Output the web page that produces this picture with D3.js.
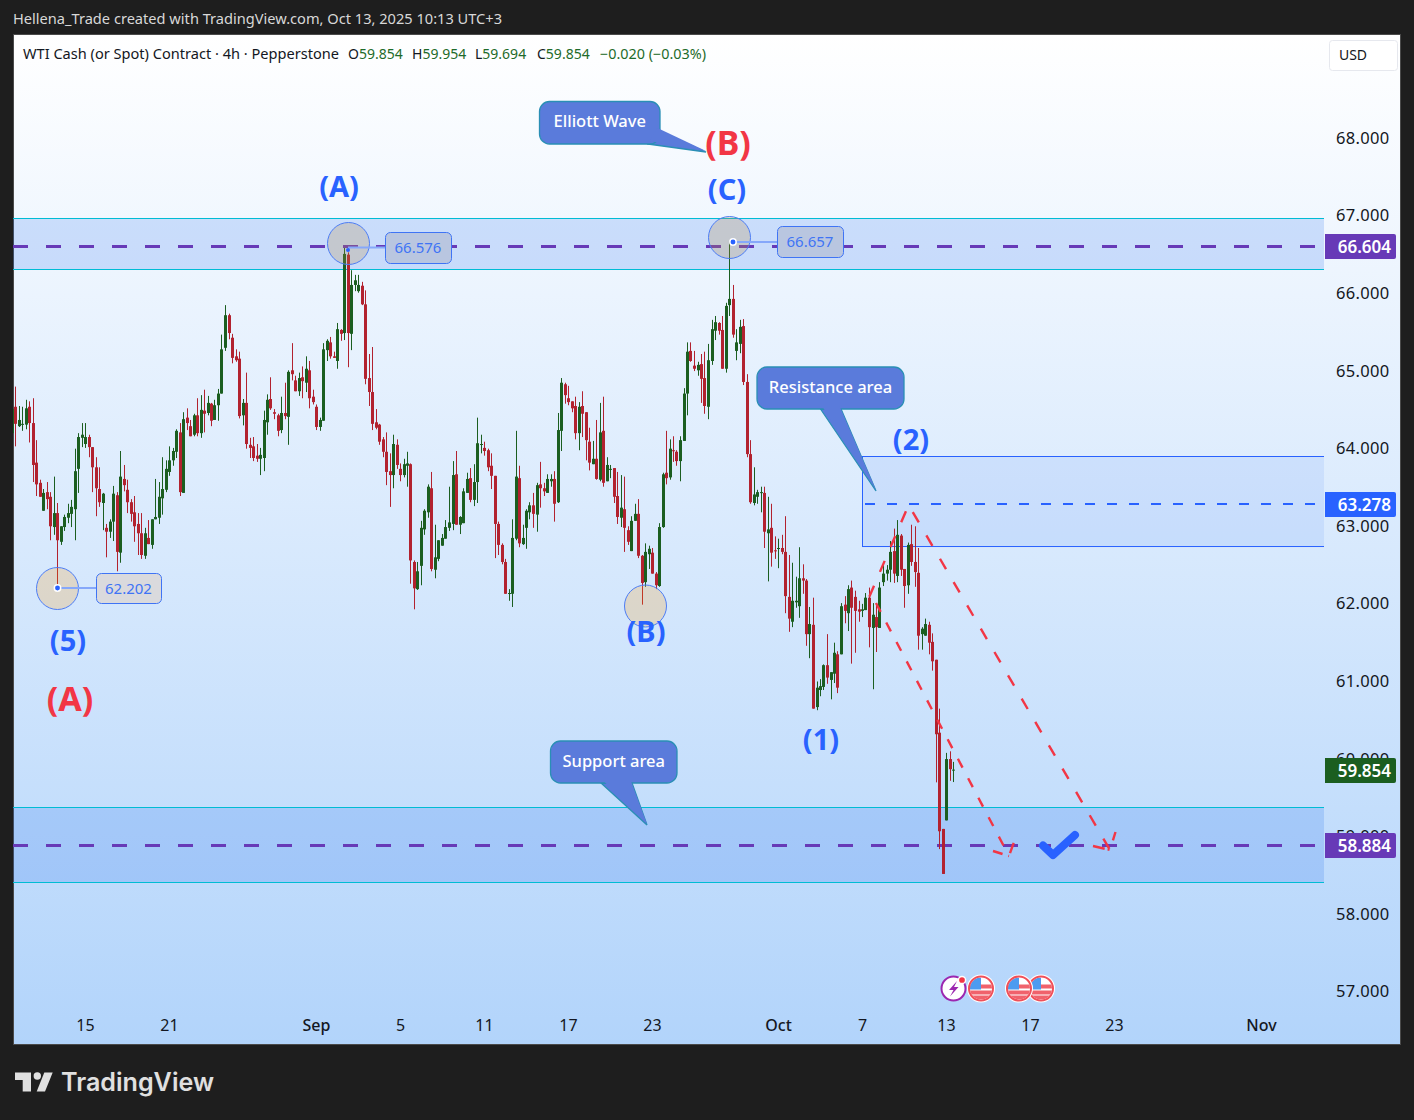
<!DOCTYPE html>
<html><head><meta charset="utf-8">
<style>html,body{margin:0;padding:0;background:#1e1e1e;overflow:hidden}svg{display:block}</style>
<script src="https://cdn.jsdelivr.net/npm/d3@7/dist/d3.min.js"></script>
</head><body><svg id="c" width="1414" height="1120"></svg>
<script>
const opens=[64.19,
64.53,64.28,64.30,64.30,64.53,64.32,63.81,63.55,63.19,63.43,
63.37,62.98,63.16,62.79,62.98,63.10,63.15,63.21,63.73,64.13,
64.05,64.14,64.01,63.75,63.47,63.29,62.97,62.92,63.05,63.39,
62.65,63.60,63.46,63.30,63.17,63.02,62.90,62.61,62.84,62.75,
63.08,63.10,63.35,63.46,63.69,63.84,63.95,64.20,63.42,64.39,
64.28,64.17,64.42,64.19,64.48,64.45,64.57,64.36,64.55,64.70,
65.29,65.71,65.42,65.18,65.15,64.42,64.58,64.04,64.02,63.90,
63.86,63.87,64.33,64.63,64.46,64.42,64.23,64.45,64.40,65.00,
64.87,64.73,64.91,64.84,65.00,64.66,64.53,64.27,64.35,65.26,
65.36,65.18,65.12,65.52,65.48,66.49,65.47,66.10,66.02,66.09,
65.85,64.90,64.72,64.33,64.30,64.11,63.95,63.70,63.65,64.04,
63.73,63.65,63.77,63.79,62.53,62.18,62.48,62.95,63.17,63.48,
62.43,62.57,62.74,62.83,62.97,63.02,63.66,63.01,63.03,63.42,
63.61,63.33,63.56,64.04,64.00,63.97,63.77,63.64,63.02,62.75,
62.53,62.12,62.12,62.83,63.61,62.76,62.97,63.17,63.26,63.14,
63.53,63.48,63.42,63.57,63.60,63.30,64.22,64.82,64.64,64.60,
64.54,64.19,64.54,64.46,64.08,63.79,63.86,63.59,64.22,63.57,
63.72,63.74,63.38,63.10,63.21,62.94,62.67,63.06,63.15,62.61,
62.27,62.63,62.65,62.38,62.22,62.98,63.68,63.62,63.97,63.95,
63.83,64.09,64.70,65.25,65.06,65.00,65.08,64.90,64.53,65.12,
65.51,65.61,65.52,65.02,65.84,65.92,65.25,65.34,65.57,64.85,
63.92,63.29,63.37,63.42,63.42,62.90,62.97,62.68,62.70,62.71,
62.66,62.08,61.76,62.01,61.96,62.32,62.29,61.60,61.72,60.66,
60.88,60.92,61.20,61.01,61.09,61.34,61.34,61.98,61.87,62.20,
62.08,61.92,61.90,61.91,62.07,61.68,61.82,61.68,62.27,62.38,
62.43,62.67,62.35,62.87,62.44,62.23,62.76,62.53,62.39,61.60,
61.58,61.72,61.50,61.27,60.33,59.09,59.20,59.99,59.854];
const highs=[64.51,
64.79,64.54,64.53,64.62,64.60,64.64,64.10,63.59,63.47,63.56,
63.43,63.63,63.29,62.99,63.14,63.28,63.33,63.99,64.19,64.32,
64.32,64.17,64.01,63.88,63.75,63.42,63.02,63.08,63.51,63.43,
63.96,63.78,63.59,63.34,63.38,63.16,63.16,62.97,63.07,63.08,
63.60,63.56,63.88,63.84,64.02,64.00,64.24,64.32,64.46,64.51,
64.36,64.44,64.64,64.68,64.75,64.67,64.58,64.62,64.76,65.46,
65.84,65.73,65.47,65.27,65.24,64.63,64.97,64.13,64.14,64.05,
64.00,64.48,64.69,64.91,64.50,64.44,64.66,64.84,65.00,65.35,
64.93,64.97,65.05,65.18,65.12,64.75,64.56,64.39,65.35,65.40,
65.43,65.24,65.61,65.53,66.576,66.52,66.29,66.23,66.23,66.14,
66.03,65.21,65.30,64.50,64.31,64.14,64.20,63.93,64.17,64.11,
63.80,63.86,63.95,63.80,62.55,62.53,63.06,63.21,63.53,63.69,
63.01,62.81,62.89,63.07,63.50,63.83,63.96,63.12,63.48,63.68,
63.74,63.79,64.39,64.17,64.08,63.99,63.93,63.64,63.05,62.77,
62.57,62.18,63.08,64.22,63.77,63.01,63.21,63.30,63.42,63.55,
63.82,63.55,63.66,63.66,63.70,64.45,64.90,64.84,64.80,64.60,
64.66,64.59,64.73,64.46,64.26,64.09,64.36,64.58,64.66,63.88,
63.78,63.74,63.69,63.65,63.63,62.99,63.12,63.28,63.34,62.62,
62.77,62.74,62.71,62.40,63.03,63.68,64.22,64.11,64.15,63.97,
64.15,64.77,65.36,65.36,65.25,65.11,65.21,65.24,65.34,65.65,
65.70,65.62,65.70,65.87,66.657,66.10,65.53,65.65,65.66,64.95,
64.10,63.75,63.46,63.50,63.50,63.37,63.28,62.86,62.83,62.88,
63.12,62.62,62.52,62.34,62.72,62.50,62.31,61.95,62.07,60.99,
61.02,61.21,61.60,61.11,61.49,61.38,62.00,62.09,62.23,62.29,
62.16,62.03,61.99,62.13,62.20,62.00,62.00,62.27,62.49,62.49,
62.80,62.96,63.07,62.89,62.44,62.78,63.01,62.99,62.71,61.69,
61.80,61.76,61.61,61.27,60.64,59.09,60.07,60.09,59.954];
const lows=[64.18,
64.02,64.27,64.22,64.24,64.07,63.56,63.38,63.37,63.19,63.21,
62.81,62.88,62.202,62.75,62.93,63.03,62.98,62.81,63.42,64.01,
64.00,63.88,63.43,63.12,63.24,62.94,62.59,62.84,62.80,62.41,
62.52,63.44,63.16,63.05,62.79,62.62,62.57,62.57,62.76,62.70,
63.08,63.02,63.14,63.43,63.64,63.77,63.87,63.38,63.42,64.23,
64.15,64.15,64.15,64.13,64.20,64.42,64.28,64.36,64.35,64.70,
65.25,65.40,65.09,65.11,64.38,64.29,63.99,63.87,63.83,63.82,
63.65,63.70,64.17,64.49,64.37,64.15,64.19,64.37,64.04,64.87,
64.73,64.67,64.64,64.72,64.51,64.56,64.23,64.22,64.35,65.12,
65.15,65.16,65.02,65.38,65.39,65.04,65.26,66.02,66.00,65.84,
64.82,64.54,64.23,64.24,64.04,63.88,63.52,63.24,63.48,63.73,
63.57,63.62,63.50,62.25,61.92,62.17,62.23,62.88,63.10,62.41,
62.32,62.54,62.74,62.83,62.93,62.94,63.01,62.89,63.03,63.42,
63.30,63.25,63.29,63.93,63.90,63.70,63.47,62.58,62.62,62.50,
62.12,62.03,61.95,62.81,62.72,62.75,62.70,63.08,62.97,62.92,
63.23,63.38,63.42,63.50,63.05,63.29,63.96,64.57,64.55,64.46,
64.11,63.97,64.14,63.84,63.71,63.79,63.59,63.57,63.50,63.57,
63.61,63.29,63.02,62.98,62.66,62.75,62.67,63.06,62.58,61.98,
62.21,62.44,62.38,62.18,62.21,62.97,63.53,63.59,63.82,63.77,
63.57,64.09,64.42,65.11,64.99,64.93,64.58,64.44,64.37,65.07,
65.39,65.46,65.02,64.97,65.70,65.42,65.13,65.22,64.81,63.88,
63.28,63.26,63.28,63.17,62.71,62.28,62.47,62.57,62.45,62.63,
61.87,61.63,61.69,61.94,61.81,62.12,61.45,61.29,60.64,60.62,
60.80,60.88,60.96,60.76,60.97,60.84,61.34,61.74,61.64,61.22,
61.36,61.76,61.82,61.91,61.43,60.89,61.37,61.68,62.22,62.29,
62.27,62.26,62.27,62.35,61.94,62.12,62.48,62.21,61.40,61.40,
61.58,61.34,61.13,59.69,58.83,58.51,59.20,59.71,59.694];
const closes=[64.50,
64.31,64.36,64.31,64.51,64.32,63.78,63.53,63.37,63.42,63.34,
62.99,63.16,62.81,62.99,63.11,63.16,63.24,63.70,64.14,64.17,
64.14,64.01,63.75,63.48,63.30,63.41,62.92,63.05,63.41,62.66,
63.63,63.52,63.30,63.15,62.99,62.90,62.62,62.90,62.76,63.08,
63.11,63.37,63.47,63.73,63.84,63.96,64.22,63.43,64.37,64.32,
64.15,64.42,64.19,64.49,64.44,64.58,64.35,64.55,64.70,65.27,
65.71,65.48,65.16,65.13,64.41,64.58,64.05,64.00,63.87,63.86,
63.91,64.36,64.62,64.51,64.44,64.22,64.45,64.41,64.98,64.95,
64.73,64.90,64.86,65.02,64.64,64.59,64.27,64.36,65.27,65.38,
65.18,65.16,65.53,65.47,66.50,65.48,66.10,66.16,66.10,65.85,
64.89,64.72,64.31,64.26,64.08,63.95,63.69,63.65,64.05,63.78,
63.65,63.79,63.80,62.55,62.19,62.41,62.97,63.19,63.50,62.44,
62.59,62.81,62.84,62.98,63.04,63.65,63.01,63.11,63.44,63.60,
63.33,63.56,64.06,64.05,63.96,63.75,63.64,63.02,62.75,62.53,
62.12,62.13,62.84,63.63,62.77,62.84,63.19,63.26,63.15,63.52,
63.48,63.44,63.60,63.60,63.28,64.23,64.84,64.68,64.59,64.51,
64.19,64.53,64.44,64.10,63.81,63.86,63.60,64.20,63.55,63.78,
63.73,63.37,63.11,63.23,62.97,62.79,63.06,63.15,62.61,62.26,
62.66,62.70,62.38,62.23,62.98,63.66,63.61,63.99,63.96,63.83,
64.10,64.70,65.24,65.12,65.02,65.07,64.89,64.54,65.13,65.53,
65.62,65.51,65.02,65.83,65.92,65.46,65.36,65.56,64.85,63.92,
63.30,63.40,63.43,63.43,62.92,62.95,62.65,62.67,62.71,62.66,
62.09,61.80,62.03,62.03,62.32,62.29,61.60,61.73,60.64,60.91,
60.93,61.20,61.04,61.11,61.36,60.91,61.96,61.90,62.18,61.94,
61.90,61.89,61.92,62.07,61.69,61.85,61.69,62.20,62.38,62.43,
62.66,62.38,62.88,62.43,62.22,62.75,62.53,62.40,61.58,61.67,
61.73,61.49,61.25,60.31,59.06,58.51,59.99,59.86,59.854];

const priceTicks=[68,67,66,65,64,63,62,61,60,59,58,57];
const dateBars=[21,45,87,111,135,159,183,219,243,267,291,315,357];
const dateLabels=["15","21","Sep","5","11","17","23","Oct","7","13","17","23","Nov"];
const boldDates=["Sep","Oct","Nov"];
const zonePrices=[[66.963,66.305],[59.372,58.406]];
const levelPrices=[66.604,58.884];
const resistancePrices=[63.896,62.736,63.278];
const lastClose=59.854;
const UP="#1b5e20",DOWN="#b2222f",BLUE="#2962ff",PURPLE="#673ab7",RED="#f23645";
const UI="'Noto Sans',sans-serif";

const svg=d3.select("#c");
const defs=svg.append("defs");
const grad=defs.append("linearGradient").attr("id","bg").attr("x1",0).attr("y1",0).attr("x2",0).attr("y2",1);
grad.append("stop").attr("offset",0).attr("stop-color","#ffffff");
grad.append("stop").attr("offset",1).attr("stop-color","#b2d4fb");
defs.append("clipPath").attr("id","plot").append("rect").attr("x",13).attr("y",35).attr("width",1311).attr("height",1009);

const x=d3.scaleLinear().domain([0,400]).range([12,1412]);
const y=d3.scaleLinear().domain([57,68]).range([991.1,137.5]);

svg.append("rect").attr("x",13.5).attr("y",34.5).attr("width",1387).attr("height",1010).attr("fill","url(#bg)").attr("stroke","#4a4a4a");

svg.append("text").attr("x",13).attr("y",24).attr("fill","#d8d8d8").attr("font-family",UI).attr("font-size",13.5)
  .attr("textLength",489).attr("lengthAdjust","spacingAndGlyphs").text("Hellena_Trade created with TradingView.com, Oct 13, 2025 10:13 UTC+3");

// axes
const yAxis=d3.axisRight(y).tickValues(priceTicks).tickFormat(d3.format(".3f")).tickSize(0).tickPadding(0);
const ya=svg.append("g").attr("transform","translate(1336,0.5)").call(yAxis);
ya.select(".domain").remove();
ya.selectAll("text").attr("font-family",UI).attr("font-size",16.5).attr("fill","#131722").attr("letter-spacing",0.3);
const xAxis=d3.axisBottom(x).tickValues(dateBars).tickFormat((d,i)=>dateLabels[i]).tickSize(0).tickPadding(0);
const xa=svg.append("g").attr("transform","translate(-0.5,1020)").call(xAxis);
xa.select(".domain").remove();
xa.selectAll("text").attr("font-family",UI).attr("font-size",16).attr("fill","#131722")
  .attr("font-weight",(d,i)=>boldDates.includes(dateLabels[i])?500:400);

// price-note boxes sit under the zones
function note(bx,by,w,h,label,fill){
  svg.append("rect").attr("x",bx+.5).attr("y",by+.5).attr("width",w).attr("height",h).attr("rx",5).attr("fill",fill).attr("stroke","#3f74f5").attr("stroke-width",1);
  svg.append("text").attr("x",bx+w/2).attr("y",by+h/2+5.5).attr("text-anchor","middle").attr("font-family",UI).attr("font-size",15).attr("fill","#3f74f5").text(label);
}
const plot=svg.append("g").attr("clip-path","url(#plot)");
plot.selectAll("rect.zone").data(zonePrices).join("rect").attr("class","zone").attr("x",13).attr("width",1311)
  .attr("y",d=>y(d[0])).attr("height",d=>y(d[1])-y(d[0])).attr("fill","#1a69f0").attr("fill-opacity",.18);
plot.selectAll("line.edge").data(zonePrices.flat()).join("line").attr("class","edge").attr("x1",13).attr("x2",1324)
  .attr("y1",d=>Math.round(y(d))+.5).attr("y2",d=>Math.round(y(d))+.5).attr("stroke","#00bcd4").attr("stroke-width",1);

note(385,232,66,31,"66.576","#b9c6e0");
note(777,226,66,31,"66.657","#b9c6e0");
note(96,573,65,30,"62.202","#dadadd");

plot.selectAll("line.level").data(levelPrices).join("line").attr("class","level").attr("x1",13).attr("x2",1324)
  .attr("y1",d=>Math.round(y(d))+.5).attr("y2",d=>Math.round(y(d))+.5).attr("stroke",PURPLE).attr("stroke-width",3).attr("stroke-dasharray","15 18");

// resistance box
plot.append("rect").attr("x",862.5).attr("y",Math.round(y(resistancePrices[0]))+.5).attr("width",470)
  .attr("height",y(resistancePrices[1])-y(resistancePrices[0])).attr("fill","#1a69f0").attr("fill-opacity",.09).attr("stroke",BLUE).attr("stroke-width",1);
plot.append("line").attr("x1",865).attr("x2",1324).attr("y1",y(resistancePrices[2])).attr("y2",y(resistancePrices[2]))
  .attr("stroke",BLUE).attr("stroke-width",2).attr("stroke-dasharray","10 12");

// candles
const idx=d3.range(opens.length);
const px=i=>Math.floor(x(i));
plot.selectAll("rect.wick").data(idx).join("rect").attr("class","wick")
  .attr("x",px).attr("width",1)
  .attr("y",i=>y(highs[i])).attr("height",i=>y(lows[i])-y(highs[i]))
  .attr("fill",i=>closes[i]>=opens[i]?UP:DOWN);
plot.selectAll("rect.body").data(idx).join("rect").attr("class","body")
  .attr("x",i=>px(i)-1).attr("width",3)
  .attr("y",i=>y(Math.max(opens[i],closes[i])))
  .attr("height",i=>Math.max(1,Math.abs(y(opens[i])-y(closes[i]))))
  .attr("fill",i=>closes[i]>=opens[i]?UP:DOWN);

// circles
function circle(cx,cy,fill,op){
  svg.append("circle").attr("cx",cx).attr("cy",cy).attr("r",21).attr("fill",fill).attr("fill-opacity",op).attr("stroke","#4d7df5").attr("stroke-width",1);
}
function anchor(dot,dy,lineTo,ly,r,halo){
  svg.append("line").attr("x1",dot).attr("x2",lineTo).attr("y1",ly).attr("y2",ly).attr("stroke","#86a8fa").attr("stroke-width",2);
  const c=svg.append("circle").attr("cx",dot).attr("cy",dy).attr("r",r).attr("fill",BLUE);
  if(halo)c.attr("stroke","#fff").attr("stroke-width",1.5);
}
circle(57.5,588.5,"#ff9800",.2); anchor(57.5,588,96,588,3.2,true);
circle(348.5,243.5,"#b98c46",.25); anchor(348,250,385,247.5,2,false);
circle(729.5,237.5,"#b98c46",.25); anchor(733,242,777,242,3.2,true);
circle(645.5,606,"#ff9800",.2);

// dashed red paths
const dashLine=d3.line();
function dash(pts,pattern){svg.append("path").attr("d",dashLine(pts)).attr("fill","none").attr("stroke",RED).attr("stroke-width",2.4).attr("stroke-dasharray",pattern);}
dash([[869.3,596.7],[908.6,505],[1110,850]],"12 15");
dash([[1093,846],[1110,850]],"12 3 2 99");
dash([[1110,850],[1115.5,832]],"0 10 9 50");
dash([[876,603],[1009,856]],"10 12");
dash([[993,851],[1009,856]],"10 6 2 99");
dash([[1009,856],[1014,842]],"0 3 11 50");

// check mark
svg.append("path").attr("d",dashLine([[1043,845.5],[1053,855],[1075,835]])).attr("fill","none").attr("stroke",BLUE).attr("stroke-width",8).attr("stroke-linejoin","round").attr("stroke-linecap","round");

// callouts
function callout(bx0,by0,bx1,by1,tail,label,fs,dy){
  const F="#5a7bdb",S="#2a8fb5";
  svg.append("path").attr("d",dashLine(tail)+"Z").attr("fill",F).attr("stroke",S).attr("stroke-width",1.3);
  svg.append("rect").attr("x",bx0).attr("y",by0).attr("width",bx1-bx0).attr("height",by1-by0).attr("rx",10).attr("fill",F).attr("stroke",S).attr("stroke-width",1.3);
  svg.append("path").attr("d",dashLine([[tail[0][0]+1.5,tail[0][1]-3],[tail[1][0],tail[1][1]-1],[tail[2][0]-1.5,tail[2][1]-3]])+"Z").attr("fill",F);
  svg.append("text").attr("x",(bx0+bx1)/2).attr("y",(by0+by1)/2+dy).attr("text-anchor","middle").attr("fill","#fff")
    .attr("font-family",UI).attr("font-weight",500).attr("font-size",fs).text(label);
}
callout(539.5,101.5,660,144,[[648,144],[706,152],[659,131]],"Elliott Wave",16.5,4);
callout(757,367,904,409,[[820.5,409],[876,491],[841,409]],"Resistance area",16.5,4.5);
callout(550.5,741,677,783,[[601,783],[647,825],[632,783]],"Support area",16.5,5);

// wave labels
const waves=[["(A)",339,187,BLUE,29],["(C)",727,190,BLUE,29],["(B)",728,142.5,RED,34],["(5)",68,641,BLUE,29],["(A)",70,698.5,RED,34],["(B)",646,632,BLUE,29],["(1)",821,739.5,BLUE,29],["(2)",911,440,BLUE,29]];
svg.selectAll("text.wave").data(waves).join("text").attr("class","wave").attr("x",d=>d[1]).attr("y",d=>d[2]+d[4]*.36)
  .attr("text-anchor","middle").attr("fill",d=>d[3]).attr("font-size",d=>d[4]).attr("font-weight",700).attr("font-family",UI).text(d=>d[0]);

// price tags
const tags=[[66.604,PURPLE],[63.278,BLUE],[lastClose,UP],[58.884,PURPLE]];
tags.forEach(([p,c])=>{
  const cy=Math.round(y(p))+.5;
  svg.append("path").attr("d",`M1325 ${cy-12.5}H1394a2 2 0 0 1 2 2V${cy+10.5}a2 2 0 0 1-2 2H1325Z`).attr("fill",c);
  svg.append("text").attr("x",1391).attr("y",cy+6).attr("text-anchor","end").attr("fill","#fff").attr("font-family",UI).attr("font-size",17).attr("font-weight",600).text(p.toFixed(3));
});

// event icons
function flag(cx,cy,id){
  defs.append("clipPath").attr("id",id).append("circle").attr("cx",cx).attr("cy",cy).attr("r",11);
  svg.append("circle").attr("cx",cx).attr("cy",cy).attr("r",14).attr("fill","#fff");
  const g=svg.append("g").attr("clip-path",`url(#${id})`);
  g.append("rect").attr("x",cx-11).attr("y",cy-11).attr("width",22).attr("height",22).attr("fill","#fff");
  [-8,-3,3,8].forEach((o,i)=>{if(i>0)g.append("rect").attr("x",cx-11).attr("y",cy+o-1).attr("width",22).attr("height",4).attr("fill","#f0626c");});
  g.append("rect").attr("x",cx-11).attr("y",cy-11).attr("width",11).attr("height",12).attr("fill","#4d9bf0");
  svg.append("circle").attr("cx",cx).attr("cy",cy).attr("r",12).attr("fill","none").attr("stroke","#f0505a").attr("stroke-width",2);
}
svg.append("circle").attr("cx",953.5).attr("cy",988.5).attr("r",12).attr("fill","#fff").attr("stroke","#9c27b0").attr("stroke-width",2);
svg.append("path").attr("d","M957 981L949 990H953.5L950 996.5L958.5 987H954Z").attr("fill","#9c27b0");
svg.append("circle").attr("cx",962).attr("cy",980).attr("r",3.6).attr("fill","#f23645").attr("stroke","#fff").attr("stroke-width",1.5);
flag(981,988.5,"f1");flag(1041,988.5,"f3");flag(1019,988.5,"f2");

// legend
svg.append("text").attr("x",23).attr("y",59).attr("font-family",UI).attr("font-size",14).attr("fill","#131722")
  .attr("textLength",316).attr("lengthAdjust","spacingAndGlyphs").text("WTI Cash (or Spot) Contract · 4h · Pepperstone");
const legendParts=[[348,"O","59.854"],[412,"H","59.954"],[475,"L","59.694"],[537,"C","59.854"]];
legendParts.forEach(([lx,k,v])=>{
  const t=svg.append("text").attr("x",lx).attr("y",59).attr("font-family",UI).attr("font-size",14);
  t.append("tspan").attr("fill","#131722").text(k);
  t.append("tspan").attr("fill","#1e6b2a").text(v);
});
svg.append("text").attr("x",600).attr("y",59).attr("font-family",UI).attr("font-size",14).attr("fill","#1e6b2a").attr("textLength",106).attr("lengthAdjust","spacingAndGlyphs").text("−0.020 (−0.03%)");

// USD
svg.append("rect").attr("x",1329.5).attr("y",40.5).attr("width",68).attr("height",30).attr("rx",3).attr("fill","#fff").attr("stroke","#e6e8ee");
svg.append("text").attr("x",1353).attr("y",60).attr("text-anchor","middle").attr("font-family",UI).attr("font-size",14).attr("fill","#131722").text("USD");

// logo
const logo=svg.append("g").attr("fill","#e0e0e0");
logo.append("path").attr("d","M15 1072.5H31V1091.5H22.7V1080H15Z");
logo.append("circle").attr("cx",37.3).attr("cy",1076).attr("r",3.7);
logo.append("path").attr("d","M44.3 1072.5H52.7L45 1091.5H36.7Z");
logo.append("text").attr("x",61).attr("y",1091).attr("font-family","Inter,sans-serif").attr("font-weight",600).attr("font-size",25).attr("textLength",153).attr("lengthAdjust","spacingAndGlyphs").text("TradingView");
</script></body></html>
